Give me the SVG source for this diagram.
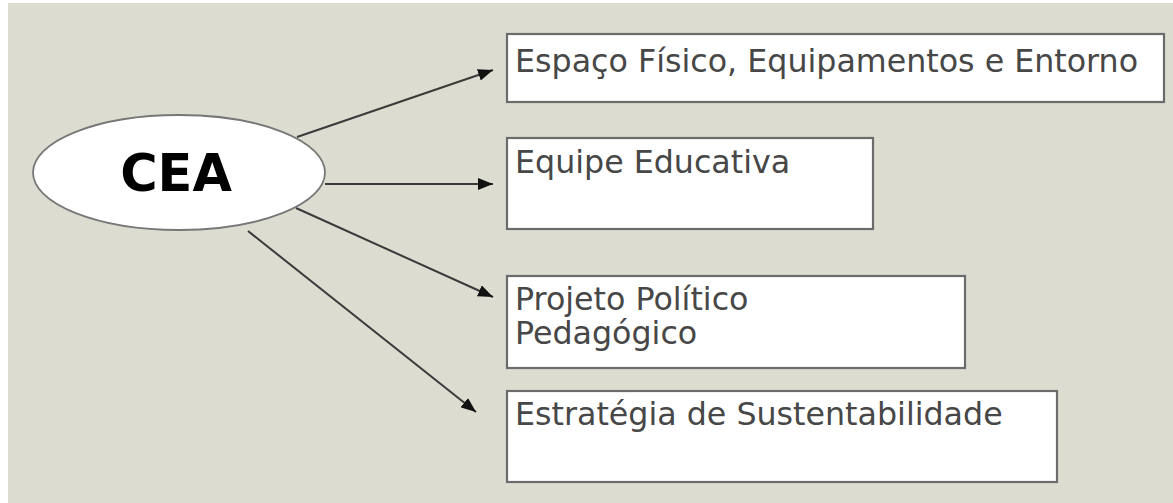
<svg xmlns="http://www.w3.org/2000/svg" width="1173" height="503" viewBox="0 0 1173 503">
  <defs>
    <marker id="ah" viewBox="0 0 10 10" refX="10" refY="5" markerWidth="15" markerHeight="12" markerUnits="userSpaceOnUse" orient="auto" preserveAspectRatio="none">
      <path d="M0,0 L10,5 L0,10 Z" fill="#111"/>
    </marker>
  </defs>
  <style>
    .box { fill: #ffffff; stroke: #6b6b6b; stroke-width: 2.2; }
    .lbl { font-family: "DejaVu Sans", Verdana, sans-serif; font-size: 31.7px; fill: #474747; }
    .conn { stroke: #3a3a3a; stroke-width: 2; fill: none; }
  </style>
  <rect x="0" y="0" width="1173" height="503" fill="#ffffff"/>
  <rect x="8" y="3" width="1165" height="500" fill="#dcdcd1"/>

  <g id="connectors">
    <line class="conn" x1="297" y1="137" x2="493" y2="70" marker-end="url(#ah)"/>
    <line class="conn" x1="325" y1="184" x2="493" y2="184" marker-end="url(#ah)"/>
    <line class="conn" x1="296" y1="208" x2="493" y2="297" marker-end="url(#ah)"/>
    <line class="conn" x1="248" y1="231" x2="476" y2="412" marker-end="url(#ah)"/>
  </g>

  <g id="node-cea">
    <ellipse cx="179" cy="172.5" rx="146" ry="57.5" fill="#ffffff" stroke="#777777" stroke-width="1.8"/>
    <text x="176" y="191" text-anchor="middle" font-family="DejaVu Sans, Verdana, sans-serif" font-weight="bold" font-size="51" fill="#000000">CEA</text>
  </g>

  <g id="node-espaco">
    <rect class="box" x="507" y="34" width="657" height="68"/>
    <text class="lbl" x="515" y="72">Espaço Físico, Equipamentos e Entorno</text>
  </g>

  <g id="node-equipe">
    <rect class="box" x="507" y="138" width="366" height="91"/>
    <text class="lbl" x="515" y="173">Equipe Educativa</text>
  </g>

  <g id="node-projeto">
    <rect class="box" x="507" y="276" width="458" height="92"/>
    <text class="lbl" x="515" y="310">Projeto Político</text>
    <text class="lbl" x="515" y="344">Pedagógico</text>
  </g>

  <g id="node-estrategia">
    <rect class="box" x="507" y="391" width="550" height="91"/>
    <text class="lbl" x="515" y="425">Estratégia de Sustentabilidade</text>
  </g>
</svg>
